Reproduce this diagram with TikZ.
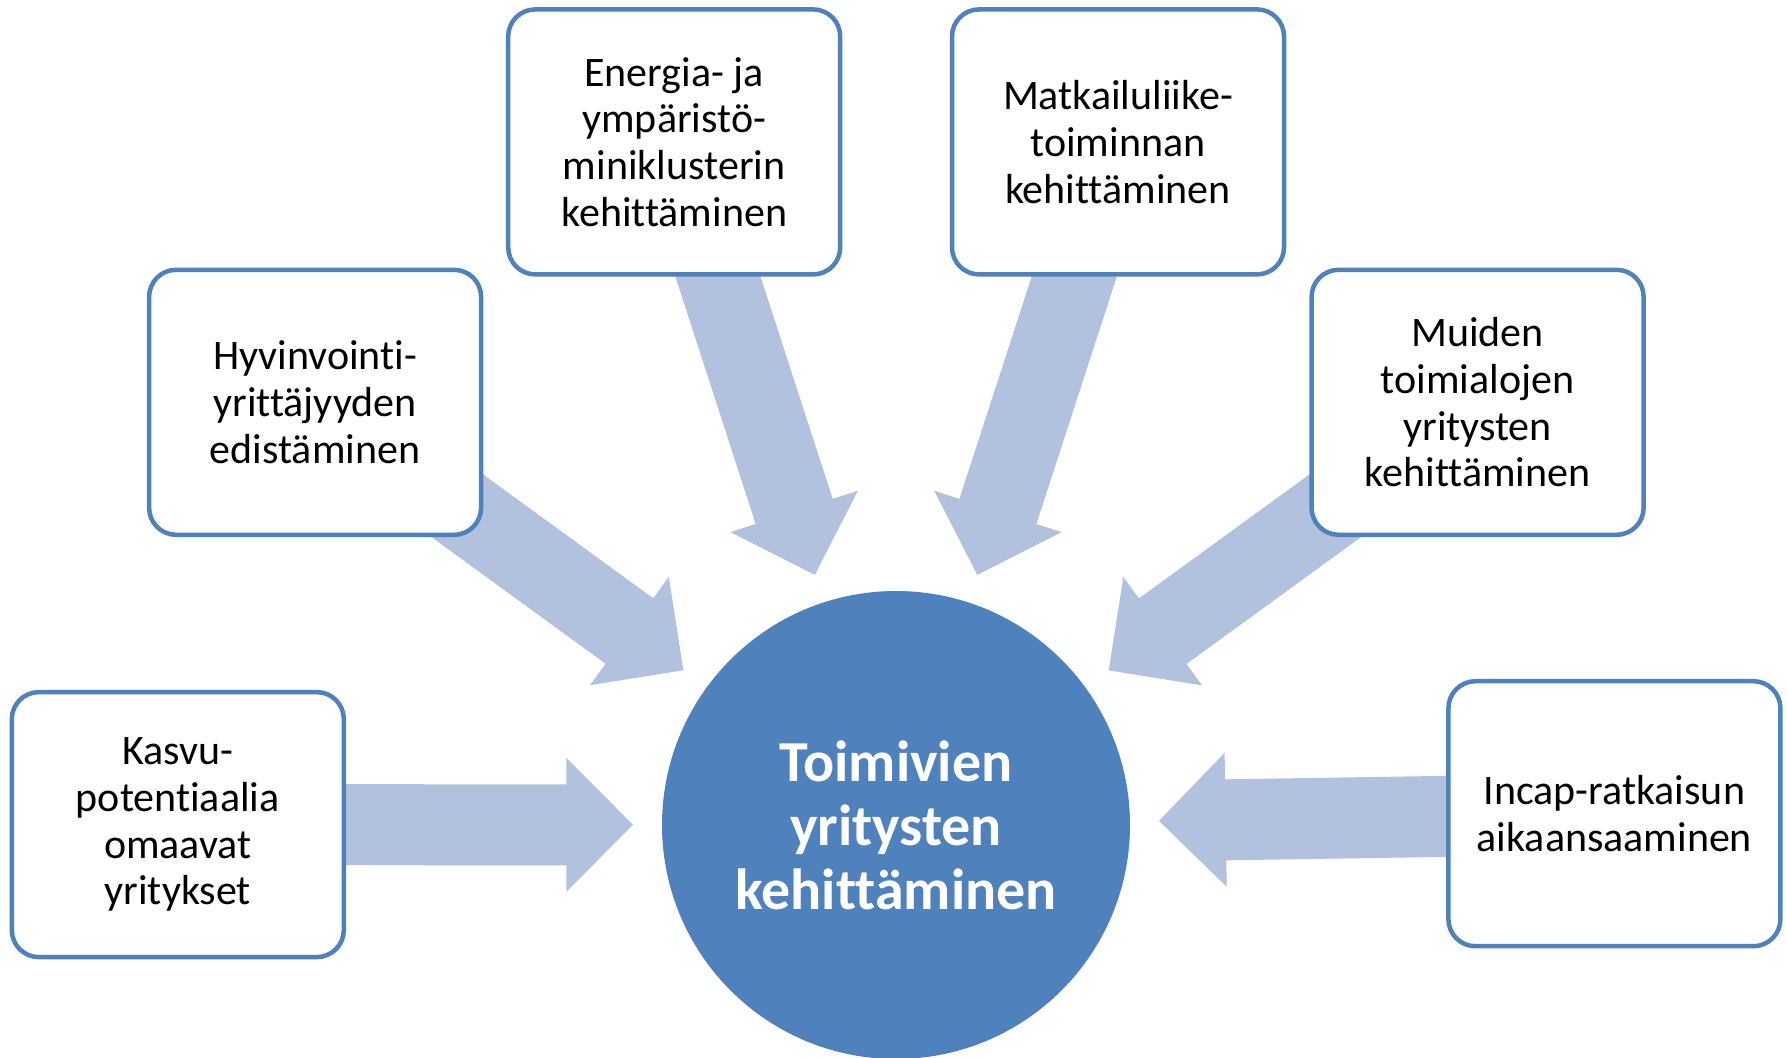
\documentclass[tikz,border=0pt]{standalone}
\usepackage{fontspec}
\setmainfont{Carlito}[Ligatures=NoCommon]
\usetikzlibrary{calc}
\definecolor{accblue}{RGB}{79,129,189}
\definecolor{arrowblue}{RGB}{178,193,221}
\pgfdeclarelayer{bg}
\pgfsetlayers{bg,main}
\newcommand\blockarrow[2]{%
  \coordinate (H#2) at ($(#2)!66.7pt!(#1.center)$);
  \fill[arrowfill] ($(#1.center)!40.5pt!90:(#2)$) -- ($(H#2)!40.5pt!90:(#2)$)
    -- ($(H#2)!67pt!90:(#2)$) -- (#2) -- ($(H#2)!67pt!-90:(#2)$)
    -- ($(H#2)!40.5pt!-90:(#2)$) -- ($(#1.center)!40.5pt!-90:(#2)$) -- cycle;
}
\tikzset{
  boxnode/.style={draw=accblue, line width=4.5pt, fill=white, rounded corners=27pt,
    minimum width=332pt, minimum height=265pt, align=center, inner sep=0pt,
    font=\fontsize{42}{46.7}\selectfont},
  hubnode/.style={circle, fill=accblue, minimum size=468pt, inner sep=0pt, align=center,
    text=white, font=\fontsize{58}{64}\selectfont\bfseries},
  arrowfill/.style={fill=arrowblue}
}
\begin{document}
\begin{tikzpicture}[x=1pt, y=-1pt]
\useasboundingbox (0,0) rectangle (1787,1057);
\node[hubnode] (c) at (896,825) {Toimivien\\yritysten\\kehittäminen};
\node[boxnode] (b1) at (177.8,824.6) {Kasvu-\\potentiaalia\\omaavat\\yritykset};
\node[boxnode] (b2) at (315.1,402.3) {Hyvinvointi-\\yrittäjyyden\\edistäminen};
\node[boxnode] (b3) at (674.2,141.9) {Energia- ja\\ympäristö-\\miniklusterin\\kehittäminen};
\node[boxnode] (b4) at (1118,141.9) {Matkailuliike-\\toiminnan\\kehittäminen};
\node[boxnode] (b5) at (1477.6,402.3) {Muiden\\toimialojen\\yritysten\\kehittäminen};
\node[boxnode] (b6) at (1614.4,813.7) {Incap-ratkaisun\\aikaansaaminen};
\foreach \i in {1,...,6}{
  \coordinate (t\i) at ($(c.center)!263pt!(b\i.center)$);
}
\begin{pgfonlayer}{bg}
\blockarrow{b1}{t1}
\blockarrow{b2}{t2}
\blockarrow{b3}{t3}
\blockarrow{b4}{t4}
\blockarrow{b5}{t5}
\blockarrow{b6}{t6}
\end{pgfonlayer}
\end{tikzpicture}
\end{document}
